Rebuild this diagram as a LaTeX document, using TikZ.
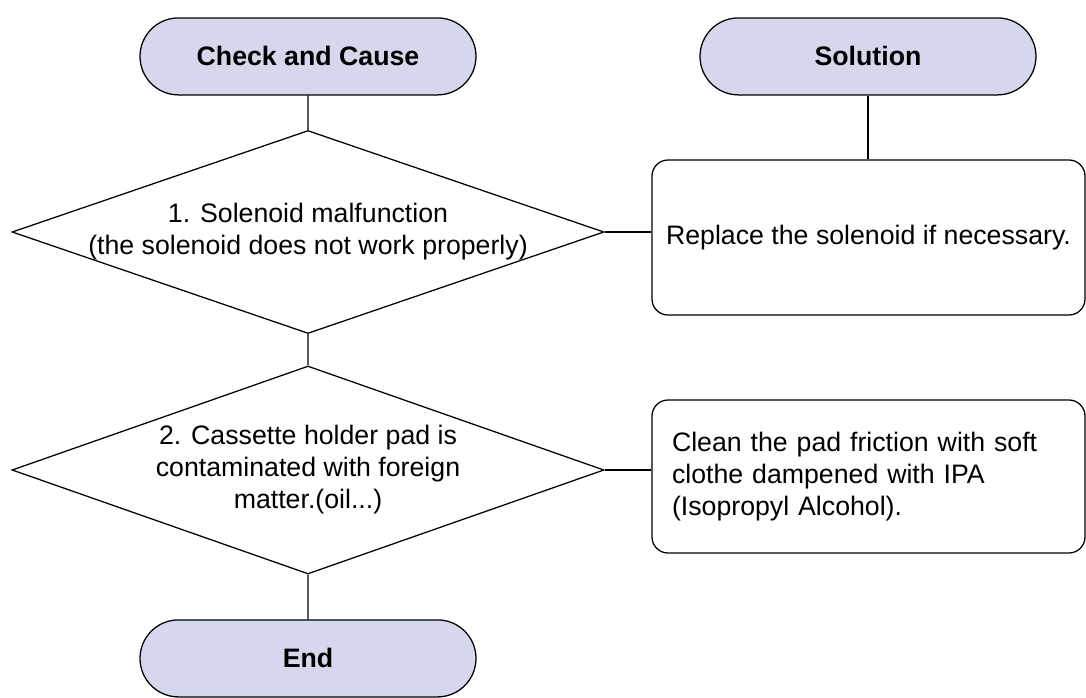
\documentclass[tikz,border=0pt]{standalone}
\usepackage{fontspec}
\setmainfont{Liberation Sans}
\usepackage{tikz}
\usetikzlibrary{positioning,shapes.geometric,shapes.misc}
\definecolor{termfill}{RGB}{213,216,236}
\newcommand{\chartfont}{\fontsize{19}{22.8}\selectfont}
\tikzset{
    terminal/.style={rounded rectangle, draw=black, fill=termfill, line width=0.9pt,
        minimum width=8.4cm, minimum height=1.925cm, inner sep=0pt, font=\chartfont\bfseries},
    decision/.style={diamond, draw=black, line width=0.9pt, aspect=2.9, inner sep=-0.2cm,
        minimum width=14.8cm, align=center, font=\chartfont},
    actionbox/.style={rectangle, rounded corners=0.4cm, draw=black, line width=0.9pt,
        minimum width=10.825cm, inner xsep=0.2cm, font=\chartfont},
    flowline/.style={line width=0.9pt}
}

\begin{document}
\begin{tikzpicture}
    \useasboundingbox (0,0) rectangle (27.15,-17.425);
    % headers
    \node[terminal] (cause) at (7.7,-1.41) {Check and Cause};
    \node[terminal] (sol) at (21.7,-1.41) {Solution};
    % checks
    \node[decision, minimum height=5.075cm] (chk1) at (7.7,-5.8)
        {1. Solenoid malfunction\\(the solenoid does not work properly)};
    \node[decision, minimum height=5.2cm] (chk2) at (7.7,-11.75)
        {2. Cassette holder pad is\\contaminated with foreign\\matter.(oil...)};
    \node[terminal] (stop) at (7.7,-16.46) {End};
    % solutions
    \node[actionbox, minimum height=3.875cm] (fix1) at (21.7125,-5.9375)
        {Replace the solenoid if necessary.};
    \node[actionbox, minimum height=3.825cm, text width=9.825cm, align=left] (fix2) at (21.7125,-11.9125)
        {Clean the pad friction with soft\\clothe dampened with IPA\\(Isopropyl Alcohol).};
    \draw[flowline] (cause)--(chk1)--(chk2)--(stop);
    \draw[flowline] (sol.south) -- (sol.south |- fix1.north);
    \draw[flowline] (chk1.east) -- (chk1.east -| fix1.west);
    \draw[flowline] (chk2.east) -- (chk2.east -| fix2.west);
\end{tikzpicture}
\end{document}
